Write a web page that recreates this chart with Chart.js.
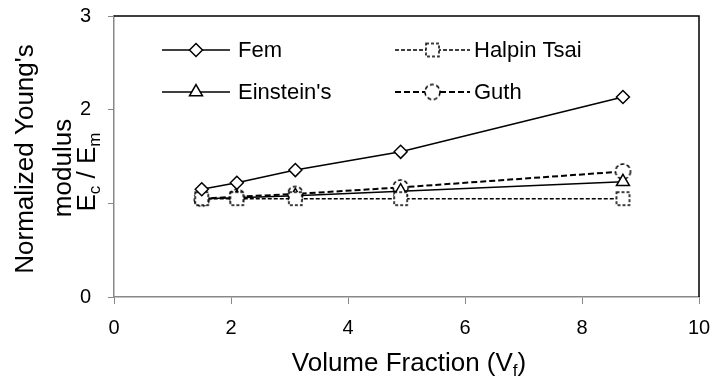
<!DOCTYPE html>
<html>
<head>
<meta charset="utf-8">
<script src="https://cdn.jsdelivr.net/npm/chart.js@4"></script>
<style>
  html, body { margin: 0; padding: 0; background: #fff; }
  #wrap { width: 715px; height: 378px; }
</style>
</head>
<body>
<div id="wrap"><canvas id="chart" width="715" height="378"></canvas></div>
<script>
// valores
const volumeFraction = [1.5, 2.1, 3.1, 4.9, 8.7];
const femValues = [1.15, 1.22, 1.355, 1.55, 2.135];
const halpinValues = [1.05, 1.05, 1.05, 1.05, 1.05];
const einsteinValues = [1.05, 1.06, 1.08, 1.13, 1.23];
const guthValues = [1.05, 1.07, 1.10, 1.17, 1.34];
const xTicks = [0, 2, 4, 6, 8, 10];
const yTicks = [0, 1, 2, 3];

const FONT = '"Liberation Sans", Arial, sans-serif';

function pts(ys) {
  return volumeFraction.map((x, i) => ({ x: x, y: ys[i] }));
}

// marcadores tracejados (quadrado e círculo)
function dashedMarker(kind) {
  const c = document.createElement('canvas');
  c.width = 19; c.height = 19;
  const g = c.getContext('2d');
  g.fillStyle = '#fff';
  g.strokeStyle = '#000';
  g.lineWidth = 1.5;
  g.beginPath();
  if (kind === 'square') {
    g.setLineDash([3, 2]);
    g.rect(3, 3, 13, 13);
  } else {
    g.setLineDash([4, 2.5]);
    g.arc(9.5, 9.5, 7.5, 0, Math.PI * 2);
  }
  g.fill();
  g.stroke();
  return c;
}
const squareMark = dashedMarker('square');
const circleMark = dashedMarker('circle');

// legenda dentro da área do gráfico
const series = [
  { label: 'Fem', style: 'rectRot', r: 6.5, dash: [], width: 1.5, x0: 162, len: 68, gap: 8, y: 50 },
  { label: 'Halpin Tsai', style: squareMark, dash: [4, 2], width: 1.5, x0: 395, len: 75, gap: 4, y: 50 },
  { label: "Einstein's", style: 'triangle', r: 7.5, dash: [], width: 1.5, x0: 162, len: 68, gap: 8, y: 92 },
  { label: 'Guth', style: circleMark, dash: [6, 3], width: 2, x0: 395, len: 75, gap: 4, y: 92 }
];

const extras = {
  id: 'extras',
  afterDraw(chart) {
    const ctx = chart.ctx;
    const a = chart.chartArea;
    ctx.save();
    // moldura superior e direita
    ctx.strokeStyle = '#000';
    ctx.lineWidth = 1.5;
    ctx.beginPath();
    ctx.moveTo(a.left, a.top);
    ctx.lineTo(a.right, a.top);
    ctx.lineTo(a.right, a.bottom);
    ctx.stroke();

    // legenda
    series.forEach(s => {
      ctx.strokeStyle = '#000';
      ctx.lineWidth = s.width;
      ctx.setLineDash(s.dash);
      ctx.beginPath();
      ctx.moveTo(s.x0, s.y);
      ctx.lineTo(s.x0 + s.len, s.y);
      ctx.stroke();
      ctx.setLineDash([]);
      const cx = s.x0 + s.len / 2;
      if (typeof s.style === 'string') {
        ctx.fillStyle = '#fff';
        ctx.lineWidth = 1.5;
        ctx.beginPath();
        Chart.helpers.drawPoint(ctx, { pointStyle: s.style, radius: s.r, borderWidth: 1.5 }, cx, s.y);
      } else {
        ctx.drawImage(s.style, cx - s.style.width / 2, s.y - s.style.height / 2);
      }
      ctx.fillStyle = '#000';
      ctx.font = '22px ' + FONT;
      ctx.textAlign = 'left';
      ctx.textBaseline = 'middle';
      ctx.fillText(s.label, s.x0 + s.len + s.gap, s.y + 1);
    });

    // título do eixo X com subscrito
    ctx.fillStyle = '#000';
    ctx.textBaseline = 'alphabetic';
    ctx.textAlign = 'left';
    const big = '26px ' + FONT;
    const small = '17px ' + FONT;
    const p1 = 'Volume Fraction (V', p2 = 'f', p3 = ')';
    ctx.font = big;
    const w1 = ctx.measureText(p1).width, w3 = ctx.measureText(p3).width;
    ctx.font = small;
    const w2 = ctx.measureText(p2).width;
    let xs = 409 - (w1 + w2 + w3) / 2;
    const yb = 371;
    ctx.font = big; ctx.fillText(p1, xs, yb); xs += w1;
    ctx.font = small; ctx.fillText(p2, xs, yb + 5); xs += w2;
    ctx.font = big; ctx.fillText(p3, xs, yb);

    // título do eixo Y (três linhas, rotacionado)
    ctx.rotate(-Math.PI / 2);
    ctx.textAlign = 'center';
    ctx.font = big;
    ctx.fillText("Normalized Young's", -159, 33);
    ctx.fillText('modulus', -168, 71);
    const parts = [['E', big, 0], ['c', small, 5], [' / E', big, 0], ['m', small, 5]];
    let tw = 0;
    parts.forEach(p => { ctx.font = p[1]; tw += ctx.measureText(p[0]).width; });
    let px = -172 - tw / 2;
    ctx.textAlign = 'left';
    ctx.fillStyle = '#fff';
    ctx.fillRect(px - 2, 75, tw + 4, 29);
    ctx.fillStyle = '#000';
    parts.forEach(p => {
      ctx.font = p[1];
      ctx.fillText(p[0], px, 95 + p[2]);
      px += ctx.measureText(p[0]).width;
    });
    ctx.restore();
  }
};

new Chart(document.getElementById('chart'), {
  type: 'scatter',
  data: {
    datasets: [
      {
        label: 'Fem', data: pts(femValues), showLine: true,
        borderColor: '#000', borderWidth: 1.5, pointStyle: 'rectRot', pointRadius: 6.5,
        pointBackgroundColor: '#fff', pointBorderColor: '#000', pointBorderWidth: 1.5
      },
      {
        label: 'Halpin Tsai', data: pts(halpinValues), showLine: true,
        borderColor: '#000', borderWidth: 1.5, borderDash: [4, 2], pointStyle: squareMark,
        pointRadius: 8
      },
      {
        label: "Einstein's", data: pts(einsteinValues), showLine: true,
        borderColor: '#000', borderWidth: 1.5, pointStyle: 'triangle', pointRadius: 7.5,
        pointBackgroundColor: '#fff', pointBorderColor: '#000', pointBorderWidth: 1.5
      },
      {
        label: 'Guth', data: pts(guthValues), showLine: true,
        borderColor: '#000', borderWidth: 2, borderDash: [6, 3], pointStyle: circleMark,
        pointRadius: 8
      }
    ]
  },
  options: {
    responsive: false,
    animation: false,
    layout: { padding: { top: 16, right: 16, left: 0, bottom: 0 } },
    plugins: { legend: { display: false }, tooltip: { enabled: false } },
    scales: {
      x: {
        type: 'linear', min: 0, max: 10,
        afterBuildTicks: s => { s.ticks = xTicks.map(v => ({ value: v })); },
        afterFit: s => { s.height = 81; s.paddingLeft = 0; s.paddingRight = 0; },
        ticks: { color: '#000', font: { family: FONT, size: 20 }, padding: 12, maxRotation: 0 },
        grid: { drawOnChartArea: false, color: '#888', tickLength: 7 },
        border: { color: '#888', width: 1.5 }
      },
      y: {
        min: 0, max: 3,
        afterBuildTicks: s => { s.ticks = yTicks.map(v => ({ value: v })); },
        afterFit: s => { s.width = 114; s.paddingTop = 0; s.paddingBottom = 0; },
        ticks: { color: '#000', font: { family: FONT, size: 20 }, padding: 17 },
        grid: { drawOnChartArea: false, color: '#888', tickLength: 6 },
        border: { color: '#888', width: 1.5 }
      }
    }
  },
  plugins: [extras]
});
</script>
</body>
</html>
